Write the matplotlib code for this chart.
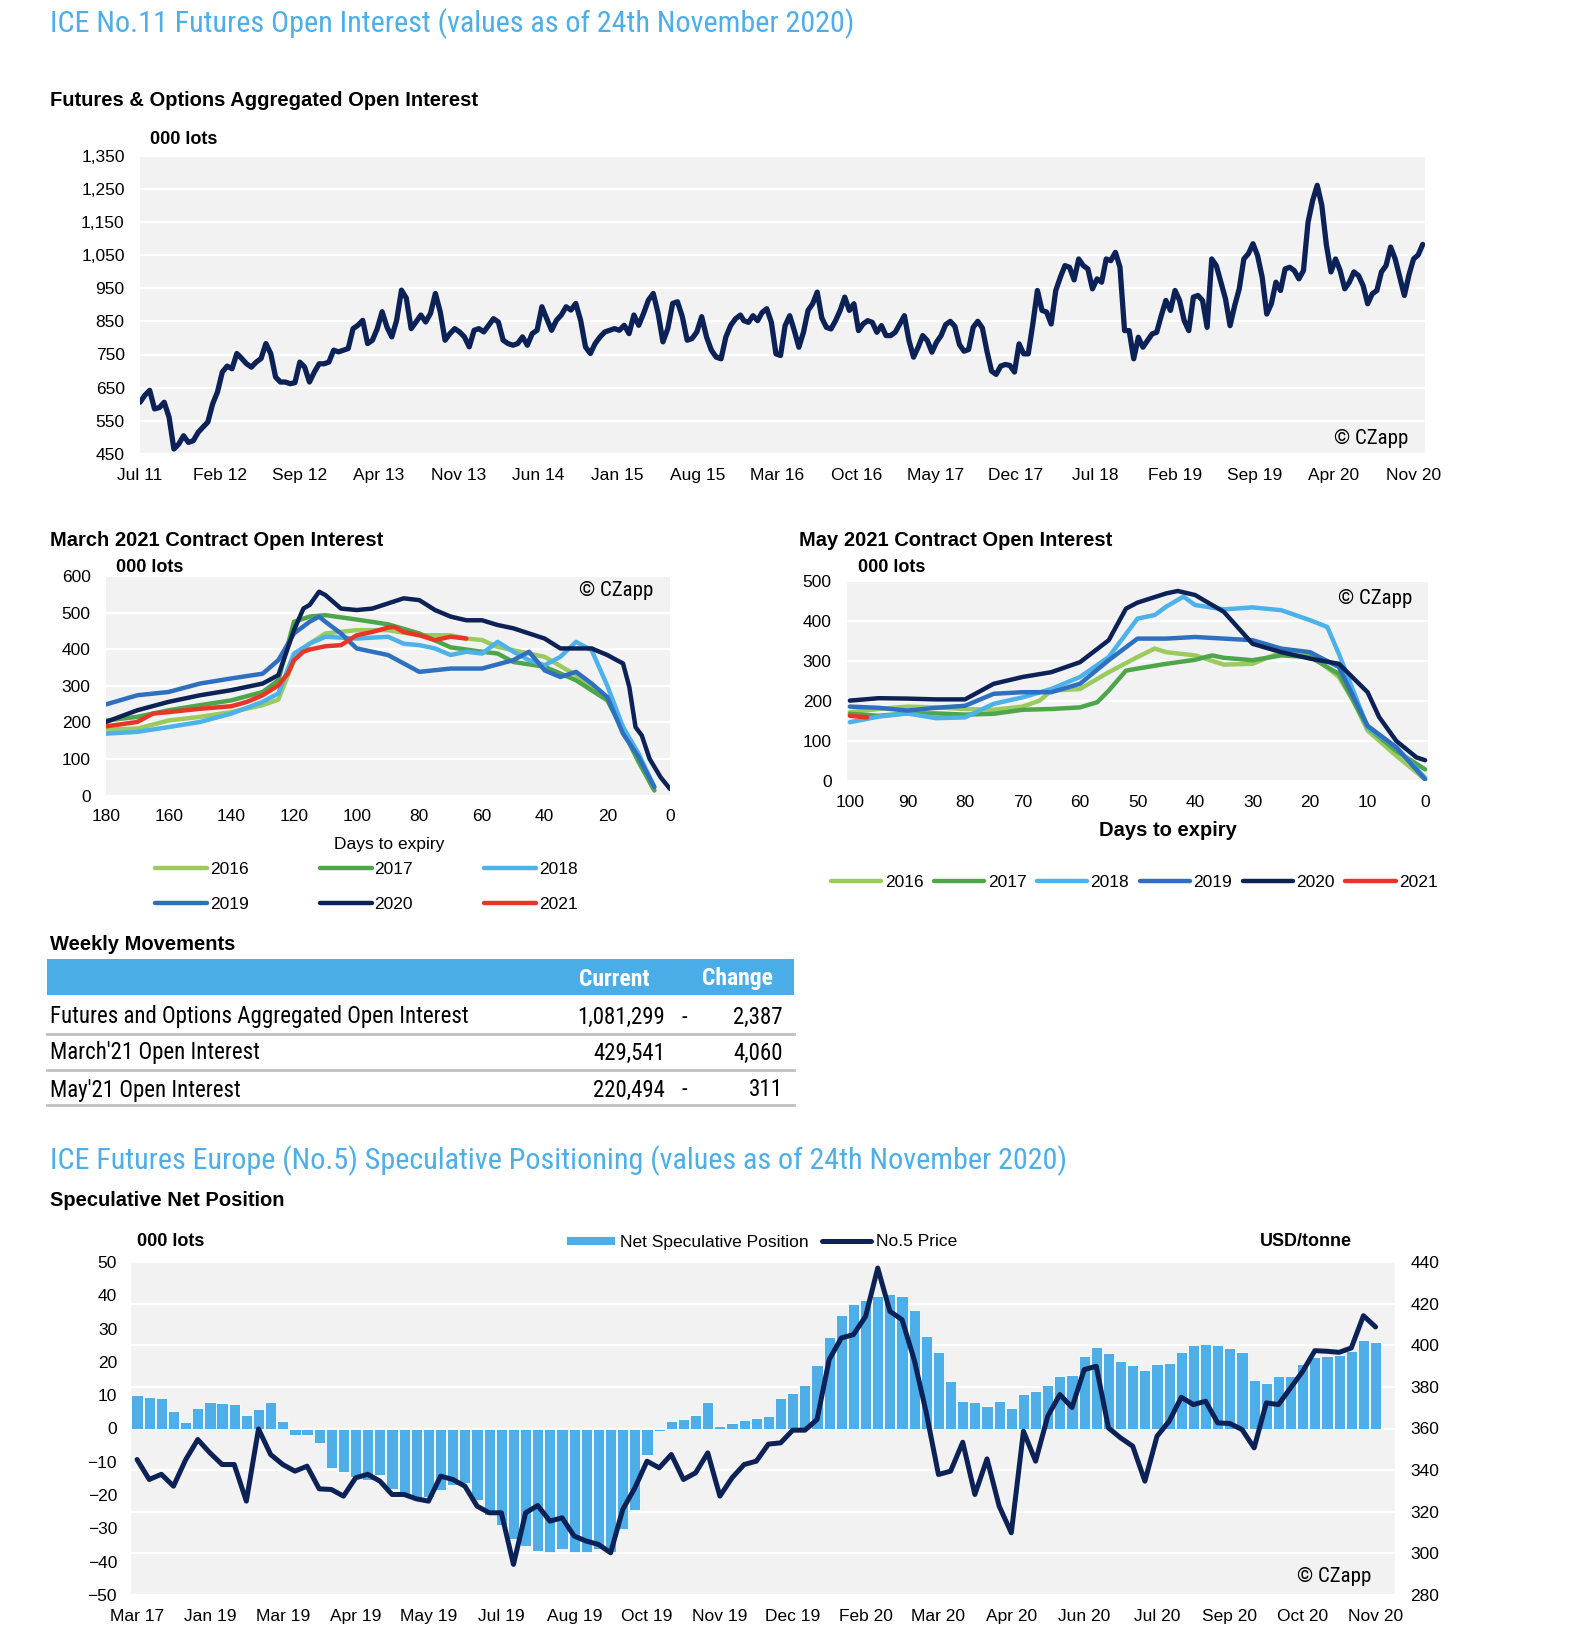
import numpy as np
import matplotlib
matplotlib.use("Agg")
import matplotlib.pyplot as plt
from matplotlib import font_manager as fm
from matplotlib.lines import Line2D
from matplotlib.patches import Rectangle

# ---------------- DATA ----------------
# Futures & Options aggregated open interest ('000 lots), Jul 2011 -> Nov 2020
oi_seg1 = [606, 627, 642, 586, 590, 606, 561, 465, 480, 505,
           485, 490, 515, 531, 546, 601, 637, 697, 715, 707,
           753, 738, 722, 712, 727, 738, 783, 753, 682, 667,
           667, 662, 665, 727, 712, 667, 697, 722, 722, 727,
           763, 758, 763, 768, 828, 838, 853, 783, 793, 828,
           879, 833, 803, 853, 944, 920, 828, 848, 869, 848,
           874, 934, 879, 793, 813, 828, 818, 803, 773, 823,
           828, 818, 838, 858, 848, 793, 783, 778, 783, 803,
           778, 813, 823, 894, 858, 823, 853, 869, 894, 884,
           904, 853, 773, 753, 783, 803, 818, 823, 828, 823,
           838, 813, 869, 838, 874, 914, 934, 874, 788, 828,
           904, 909, 864, 793, 798, 818, 864, 803, 763, 742,
           737, 803, 838, 858, 869]
oi_seg2 = [852, 847, 867, 852, 877, 888, 847, 752, 747, 837,
           867, 822, 772, 817, 883, 903, 938, 860, 832, 827,
           852, 883, 923, 883, 903, 822, 842, 852, 847, 817,
           837, 807, 807, 817, 842, 867, 792, 742, 772, 807,
           792, 757, 787, 807, 840, 850, 835, 780, 760, 765,
           832, 850, 830, 760, 700, 690, 715, 720, 717, 697,
           782, 752, 752, 842, 943, 883, 878, 842, 943, 983,
           1018, 1013, 975, 1038, 1018, 1008, 948, 978, 968, 1038,
           1033, 1058, 1013, 822, 822, 737, 802, 772, 792, 812,
           817, 867, 913, 883, 943, 913, 852, 822, 923, 928,
           913, 832, 1038, 1018, 968, 918, 837, 897, 948, 1038,
           1054, 1084, 1048, 983, 872, 903, 968, 943, 1008, 1013,
           1003, 978, 1003, 1149, 1214, 1260, 1200, 1080, 999, 1038,
           1003, 948, 968, 999, 988, 958, 903, 933, 943, 999,
           1018, 1074, 1038, 983, 928, 990, 1038, 1050, 1082]
# months since Jul 2011 covered by each reading segment
oi_seg1_span = (0.0, 52.8)
oi_seg2_span = (53.1, 112.8)
oi_tick_labels = ['Jul 11', 'Feb 12', 'Sep 12', 'Apr 13', 'Nov 13', 'Jun 14', 'Jan 15',
                  'Aug 15', 'Mar 16', 'Oct 16', 'May 17', 'Dec 17', 'Jul 18', 'Feb 19',
                  'Sep 19', 'Apr 20', 'Nov 20']
oi_tick_step_months = 7

years = ['2016', '2017', '2018', '2019', '2020', '2021']
year_colors = ['#9BCB5E', '#4EA64B', '#4DB1EA', '#2E6FC0', '#0C2257', '#E8352A']

# March contract open interest ('000 lots) vs days to expiry
mar_days = {
    '2016': [180, 170, 160, 150, 140, 130, 125, 120, 115, 110, 100, 90, 80, 70, 65, 60, 55, 50, 40, 30, 20, 15, 10, 5],
    '2017': [180, 170, 160, 150, 140, 130, 125, 120, 115, 110, 100, 90, 80, 70, 60, 55, 50, 40, 30, 20, 15, 10, 5],
    '2018': [180, 170, 160, 150, 140, 130, 125, 120, 115, 110, 100, 90, 85, 80, 75, 70, 65, 60, 55, 50, 45, 40, 35, 30, 25, 20, 15, 10, 5],
    '2019': [180, 170, 160, 150, 140, 130, 125, 120, 115, 112, 110, 105, 100, 90, 80, 70, 60, 50, 45, 40, 35, 30, 25, 20, 15, 10, 5],
    '2020': [180, 170, 160, 150, 140, 130, 125, 120, 117, 115, 112, 110, 105, 100, 95, 90, 85, 80, 75, 70, 65, 60, 55, 50, 45, 40, 35, 30, 25, 20, 17, 15, 13, 11, 9, 6.5, 3, 0],
    '2021': [180, 170, 165, 160, 150, 140, 135, 130, 125, 122, 120, 117, 115, 110, 105, 100, 95, 90, 88, 85, 80, 75, 70, 65],
}
mar_oi = {
    '2016': [180, 183, 205, 215, 228, 247, 262, 370, 415, 443, 452, 452, 438, 438, 429, 425, 406, 397, 379, 329, 265, 187, 96, 14],
    '2017': [205, 215, 233, 247, 260, 283, 315, 475, 489, 493, 481, 468, 443, 405, 393, 388, 365, 352, 315, 260, 178, 91, 14],
    '2018': [169, 174, 187, 201, 224, 256, 279, 388, 415, 434, 429, 434, 415, 411, 402, 384, 393, 388, 420, 393, 370, 356, 379, 420, 397, 300, 187, 114, 23],
    '2019': [249, 274, 283, 306, 320, 333, 370, 443, 475, 489, 475, 443, 402, 384, 338, 347, 347, 370, 393, 342, 324, 338, 306, 269, 169, 105, 23],
    '2020': [201, 233, 256, 274, 288, 306, 329, 452, 511, 521, 557, 548, 511, 507, 511, 525, 539, 534, 507, 489, 479, 479, 466, 457, 443, 429, 402, 402, 402, 384, 370, 361, 297, 187, 164, 100, 50, 18],
    '2021': [189, 201, 224, 228, 237, 244, 256, 274, 301, 333, 370, 393, 399, 408, 411, 438, 447, 459, 461, 447, 438, 425, 434, 429],
}

# May contract open interest ('000 lots) vs days to expiry
may_days = {
    '2016': [100, 95, 90, 85, 80, 75, 70, 67, 65, 60, 55, 50, 47, 45, 40, 35, 30, 25, 20, 15, 12.5, 10, 5, 0],
    '2017': [100, 95, 90, 85, 80, 75, 70, 65, 60, 57, 55, 52, 50, 45, 40, 37, 35, 30, 25, 20, 15, 10, 5, 0],
    '2018': [100, 95, 90, 85, 80, 75, 70, 65, 60, 55, 50, 47, 45, 42, 40, 35, 30, 25, 20, 17, 15, 10, 5, 0],
    '2019': [100, 95, 90, 85, 80, 75, 70, 65, 60, 55, 50, 45, 40, 35, 30, 25, 20, 15, 10, 5, 0],
    '2020': [100, 95, 90, 85, 80, 75, 70, 65, 60, 55, 52, 50, 45, 43, 40, 35, 30, 25, 20, 15, 10, 8, 5, 1.5, 0],
    '2021': [100, 98.5, 97],
}
may_oi = {
    '2016': [172, 180, 186, 184, 180, 178, 186, 201, 226, 230, 272, 310, 331, 322, 314, 291, 293, 322, 318, 260, 201, 126, 63, 4],
    '2017': [168, 163, 169, 169, 166, 168, 178, 180, 184, 197, 226, 276, 281, 293, 303, 314, 308, 302, 314, 310, 268, 134, 75, 29],
    '2018': [147, 161, 169, 157, 159, 193, 209, 230, 260, 310, 406, 415, 436, 461, 440, 429, 434, 427, 402, 385, 318, 134, 84, 8],
    '2019': [186, 183, 176, 183, 188, 218, 222, 222, 243, 302, 356, 356, 360, 356, 352, 331, 322, 285, 138, 84, 4],
    '2020': [201, 207, 206, 204, 204, 243, 260, 272, 297, 352, 431, 446, 469, 475, 465, 423, 343, 322, 306, 293, 222, 160, 100, 59, 52],
    '2021': [163, 161, 159],
}

# Weekly movements table
table_labels = ['Futures and Options Aggregated Open Interest', "March'21 Open Interest", "May'21 Open Interest"]
table_current = [1081299, 429541, 220494]
table_change = [-2387, 4060, -311]

# Speculative net position ('000 lots) and No.5 price (USD/tonne), weekly
net_spec = [10.2, 9.4, 9.2, 5.4, 2.0, 6.1, 8.1, 7.8, 7.5, 4.0,
            6.0, 8.1, 2.4, -2.0, -1.9, -4.3, -11.8, -13.1, -14.6, -15.6,
            -14.1, -18.3, -19.6, -21.3, -20.6, -18.6, -17.0, -16.3, -21.6, -26.0,
            -29.1, -33.3, -35.3, -36.8, -37.0, -36.3, -37.0, -37.0, -36.3, -37.0,
            -30.3, -24.5, -8.0, -0.8, 2.4, 2.9, 4.0, 7.9, 0.9, 1.7,
            2.7, 3.3, 3.7, 9.3, 10.6, 13.2, 19.2, 27.6, 34.0, 37.4,
            38.7, 39.7, 40.5, 39.7, 35.5, 27.9, 22.9, 14.4, 8.4, 7.9,
            6.9, 8.4, 6.2, 10.4, 11.4, 13.0, 15.9, 16.2, 21.7, 24.5,
            22.6, 20.4, 19.0, 17.6, 19.4, 19.6, 23.0, 25.0, 25.4, 25.1,
            24.3, 22.9, 14.5, 13.6, 15.7, 15.9, 19.4, 21.6, 21.7, 22.2,
            23.2, 26.7, 25.9]
no5_price = [345.1, 335.5, 338.0, 332.3, 345.0, 354.7, 348.3, 342.7, 342.7, 325.1,
             359.8, 347.5, 342.7, 339.5, 341.9, 331.0, 330.7, 327.5, 336.3, 338.0,
             334.7, 328.3, 328.3, 326.2, 325.1, 337.1, 335.5, 332.3, 322.7, 319.5,
             319.5, 294.7, 319.5, 323.0, 315.5, 317.1, 308.3, 305.9, 304.3, 300.3,
             321.1, 331.5, 344.3, 341.1, 347.5, 335.5, 338.7, 348.3, 327.5, 336.3,
             342.7, 344.3, 352.5, 353.1, 359.2, 359.2, 364.3, 393.1, 403.5, 405.1,
             413.9, 437.1, 416.3, 412.3, 393.1, 367.5, 337.9, 339.5, 353.4, 328.3,
             345.4, 322.7, 309.9, 358.7, 344.3, 365.9, 376.3, 370.1, 388.3, 389.9,
             360.3, 355.5, 351.5, 334.7, 356.3, 363.5, 375.0, 371.5, 373.1, 362.7,
             362.4, 359.5, 350.7, 372.3, 371.5, 379.5, 387.5, 397.4, 397.1, 396.6,
             398.7, 414.2, 408.8]
spec_tick_labels = ['Mar 17', 'Jan 19', 'Mar 19', 'Apr 19', 'May 19', 'Jul 19', 'Aug 19',
                    'Oct 19', 'Nov 19', 'Dec 19', 'Feb 20', 'Mar 20', 'Apr 20', 'Jun 20',
                    'Jul 20', 'Sep 20', 'Oct 20', 'Nov 20']
spec_tick_step = 6

# ---------------- STYLE ----------------
names = {f.name for f in fm.fontManager.ttflist}
REG = 'Liberation Sans' if 'Liberation Sans' in names else 'DejaVu Sans'
NARROW = next((n for n in ['Liberation Sans Narrow', 'Roboto Condensed', 'Open Sans Condensed'] if n in names), REG)
plt.rcParams['font.family'] = [REG, 'DejaVu Sans']
plt.rcParams['xtick.labelsize'] = 12.5
plt.rcParams['ytick.labelsize'] = 12.5
NF = [NARROW, 'DejaVu Sans']

BLUE_T = '#4DAEE8'
NAVY = '#0C2257'
BG = '#F2F2F2'
W, H = 1572, 1648

fig = plt.figure(figsize=(W / 100, H / 100), dpi=100)


def rect(l, t, r, b):
    return [l / W, 1 - b / H, (r - l) / W, (b - t) / H]


def T(x, y, s, **kw):
    kw.setdefault('va', 'center')
    return fig.text(x / W, 1 - y / H, s, **kw)


def style(ax, xpad=10, ypad=11):
    ax.set_facecolor(BG)
    for sp in ax.spines.values():
        sp.set_visible(False)
    ax.tick_params(length=0, colors='black')
    ax.tick_params(axis='x', pad=xpad)
    ax.tick_params(axis='y', pad=ypad)
    ax.grid(axis='y', color='white', lw=1.6)
    ax.set_axisbelow(True)


# ---------------- TITLES ----------------
T(50, 24, 'ICE No.11 Futures Open Interest (values as of 24th November 2020)',
  color=BLUE_T, fontsize=21.7, family=NF)
T(50, 101, 'Futures & Options Aggregated Open Interest', fontsize=14.5, weight='bold')

# ---------------- TOP CHART ----------------
ax1 = fig.add_axes(rect(140, 155.5, 1425, 454))
style(ax1, xpad=10, ypad=11)
oi_x = np.concatenate([np.linspace(*oi_seg1_span, len(oi_seg1)), np.linspace(*oi_seg2_span, len(oi_seg2))])
oi_y = np.array(oi_seg1 + oi_seg2)
ax1.plot(oi_x, oi_y, color=NAVY, lw=3.8, solid_joinstyle='round', solid_capstyle='round')
ax1.set_xlim(0, 113)
ax1.set_ylim(450, 1350)
ax1.set_yticks(np.arange(450, 1351, 100))
ax1.set_yticklabels([f'{v:,}' for v in range(450, 1351, 100)])
ax1.set_xticks(np.arange(len(oi_tick_labels)) * oi_tick_step_months)
ax1.set_xticklabels(oi_tick_labels)
T(150, 140, '000 lots', fontsize=13, weight='bold')
T(1408, 438, '© CZapp', fontsize=15, ha='right', family=NF)

# ---------------- MARCH CHART ----------------
T(50, 541, 'March 2021 Contract Open Interest', fontsize=14.5, weight='bold')
ax2 = fig.add_axes(rect(106, 576, 670, 795.5))
style(ax2, xpad=10, ypad=11)
mar_lines = {}
for yr, c in zip(years, year_colors):
    ln, = ax2.plot(mar_days[yr], mar_oi[yr], color=c, lw=3.2, label=yr,
                   solid_joinstyle='round', solid_capstyle='round')
    mar_lines[yr] = ln
ax2.set_xlim(180, 0)
ax2.set_ylim(0, 600)
ax2.set_xticks(np.arange(180, -1, -20))
ax2.set_yticks(np.arange(0, 601, 100))
T(116, 567, '000 lots', fontsize=13, weight='bold')
T(653, 591, '© CZapp', fontsize=15, ha='right', family=NF)
T(389, 844, 'Days to expiry', fontsize=12.5, ha='center')
order = ['2016', '2019', '2017', '2020', '2018', '2021']
ax2.legend([mar_lines[y] for y in order], order, ncol=3, loc='upper left',
           bbox_to_anchor=(155 / W, 1 - 862 / H), bbox_transform=fig.transFigure,
           frameon=False, handlelength=3.0, handletextpad=0.15, columnspacing=4.1,
           labelspacing=1.15, fontsize=12.5, borderpad=0, borderaxespad=0)

# ---------------- MAY CHART ----------------
T(799, 541, 'May 2021 Contract Open Interest', fontsize=14.5, weight='bold')
ax3 = fig.add_axes(rect(847, 581, 1428, 781))
style(ax3, xpad=10, ypad=11)
may_lines = []
for yr, c in zip(years, year_colors):
    ln, = ax3.plot(may_days[yr], may_oi[yr], color=c, lw=3.2, label=yr,
                   solid_joinstyle='round', solid_capstyle='round')
    may_lines.append(ln)
ax3.set_xlim(100.5, -0.5)
ax3.set_ylim(0, 500)
ax3.set_xticks(np.arange(100, -1, -10))
ax3.set_yticks(np.arange(0, 501, 100))
T(858, 567, '000 lots', fontsize=13, weight='bold')
T(1412, 599, '© CZapp', fontsize=15, ha='right', family=NF)
T(1168, 830, 'Days to expiry', fontsize=14.5, ha='center', weight='bold')
ax3.legend(may_lines, years, ncol=6, loc='center left',
           bbox_to_anchor=(831 / W, 1 - 882 / H), bbox_transform=fig.transFigure,
           frameon=False, handlelength=2.9, handletextpad=0.2, columnspacing=0.6,
           fontsize=12.5, borderpad=0, borderaxespad=0)

# ---------------- TABLE ----------------
T(50, 944, 'Weekly Movements', fontsize=14.5, weight='bold')
fig.add_artist(Rectangle((47 / W, 1 - 995 / H), (794 - 47) / W, 36 / H,
                         transform=fig.transFigure, color='#4BADE8', lw=0))
T(614, 979, 'Current', fontsize=17, weight='bold', color='white', ha='center', family=NF)
T(737, 979, 'Change', fontsize=17, weight='bold', color='white', ha='center', family=NF)
row_y = [1017, 1053, 1090]
sep_y = [1034, 1070, 1105]
for lab, cur, chg, ry, sy in zip(table_labels, table_current, table_change, row_y, sep_y):
    T(50, ry, lab, fontsize=16.5, family=NF)
    T(665, ry, f'{cur:,}', fontsize=16.5, ha='right', family=NF)
    if chg < 0:
        T(684, ry, '-', fontsize=16.5, ha='center', family=NF)
    T(783, ry, f'{abs(chg):,}', fontsize=16.5, ha='right', family=NF)
    fig.add_artist(Line2D([47 / W, 794 / W], [1 - sy / H, 1 - sy / H], transform=fig.transFigure,
                          color='#BFBFBF', lw=2.0))

# ---------------- SPECULATIVE CHART ----------------
T(50, 1161, 'ICE Futures Europe (No.5) Speculative Positioning (values as of 24th November 2020)',
  color=BLUE_T, fontsize=21.7, family=NF)
T(50, 1201, 'Speculative Net Position', fontsize=14.5, weight='bold')

ax4 = fig.add_axes(rect(131, 1262, 1395, 1595))
ax4.set_facecolor(BG)
for sp in ax4.spines.values():
    sp.set_visible(False)
idx = np.arange(len(net_spec))
bars = ax4.bar(idx, net_spec, width=0.92, color='#4DAEE8', edgecolor='white', lw=0.6, zorder=2,
               label='Net Speculative Position')
ax4.set_xlim(-0.5, len(net_spec) + 0.6)
L0, L1 = -50, 50
R0, R1 = 280, 440
ax4.set_ylim(L0, L1)
ax4.set_yticks(np.arange(L0, L1 + 1, 10))
right_ticks = np.arange(R0, R1 + 1, 20)
for v in right_ticks:
    ax4.axhline(L0 + (v - R0) / (R1 - R0) * (L1 - L0), color='white', lw=1.6, zorder=1)
ax4.set_xticks(np.arange(len(spec_tick_labels)) * spec_tick_step)
ax4.set_xticklabels(spec_tick_labels)
ax4.tick_params(length=0)
ax4.tick_params(axis='x', pad=10)
ax4.tick_params(axis='y', pad=10)

ax5 = ax4.twinx()
for sp in ax5.spines.values():
    sp.set_visible(False)
pl, = ax5.plot(idx, no5_price, color=NAVY, lw=3.6, solid_joinstyle='round', solid_capstyle='round',
               label='No.5 Price')
ax5.set_ylim(R0, R1)
ax5.set_yticks(right_ticks)
ax5.tick_params(length=0, pad=11)

fig.legend([bars, pl], ['Net Speculative Position', 'No.5 Price'], ncol=2, loc='center left',
           bbox_to_anchor=(566 / W, 1 - 1242 / H), frameon=False, fontsize=12.5,
           handlelength=2.8, handleheight=0.45, handletextpad=0.3, columnspacing=0.8,
           borderpad=0, borderaxespad=0)
T(137, 1242, '000 lots', fontsize=13, weight='bold')
T(1260, 1241, 'USD/tonne', fontsize=12.9, weight='bold')
T(1371, 1576, '© CZapp', fontsize=15, ha='right', family=NF)

fig.savefig('out.png', dpi=100, facecolor='white')
